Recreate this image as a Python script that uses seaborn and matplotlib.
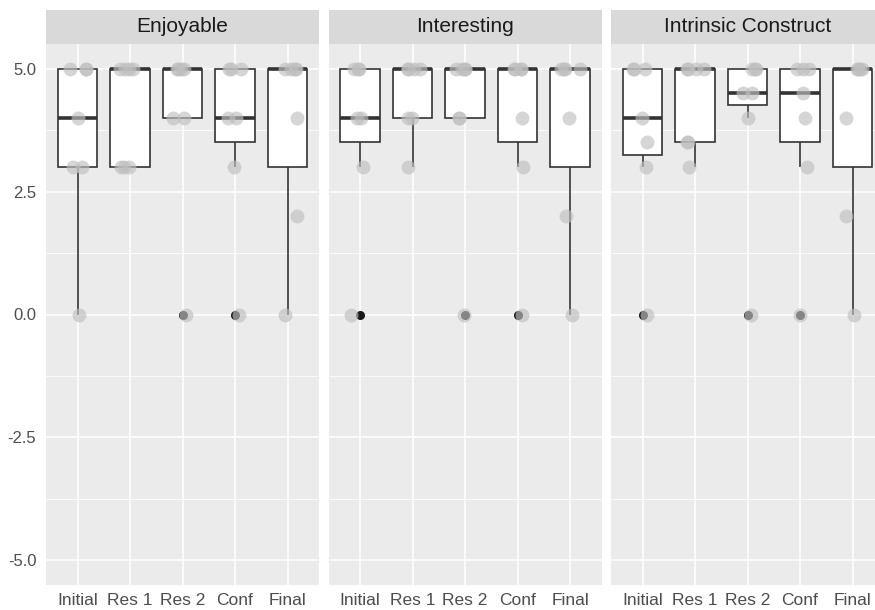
import numpy as np
import pandas as pd
import matplotlib
matplotlib.use("Agg")
import matplotlib.pyplot as plt
from matplotlib.patches import Rectangle
from matplotlib.ticker import FixedLocator
import seaborn as sns

# Phases along the x axis and the three measures shown as facets
phases = ["Initial", "Res 1", "Res 2", "Conf", "Final"]
facets = ["Enjoyable", "Interesting", "Intrinsic Construct"]

# Ratings per phase (7 participants), one list per phase
enjoyable = [
    [0, 3, 3, 4, 5, 5, 5],
    [3, 3, 3, 5, 5, 5, 5],
    [0, 4, 4, 5, 5, 5, 5],
    [0, 3, 4, 4, 5, 5, 5],
    [0, 2, 4, 5, 5, 5, 5],
]
interesting = [
    [0, 3, 4, 4, 5, 5, 5],
    [3, 4, 4, 5, 5, 5, 5],
    [0, 4, 4, 5, 5, 5, 5],
    [0, 3, 4, 5, 5, 5, 5],
    [0, 2, 4, 5, 5, 5, 5],
]
intrinsic = [
    [0, 3, 3.5, 4, 5, 5, 5],
    [3, 3.5, 3.5, 5, 5, 5, 5],
    [0, 4, 4.5, 4.5, 5, 5, 5],
    [0, 3, 4, 4.5, 5, 5, 5],
    [0, 2, 4, 5, 5, 5, 5],
]

y_ticks = [-5.0, -2.5, 0.0, 2.5, 5.0]
y_tick_labels = ["-5.0", "-2.5", "0.0", "2.5", "5.0"]


def long_frame(values):
    rows = [(p, v) for p, vals in zip(phases, values) for v in vals]
    return pd.DataFrame(rows, columns=["phase", "score"])


sns.set_theme(style="darkgrid")
plt.rcParams["font.family"] = ["Liberation Sans", "DejaVu Sans"]
plt.rcParams["axes.unicode_minus"] = False

W, H = 875, 610
fig = plt.figure(figsize=(W / 100, H / 100), dpi=100)
fig.patch.set_facecolor("white")

panel_lefts = [46, 328.5, 611]
panel_w, panel_bottom, panel_h = 273, 25, 541
strip_h = 34

np.random.seed(3)
for i, (title, values) in enumerate(zip(facets, [enjoyable, interesting, intrinsic])):
    ax = fig.add_axes([panel_lefts[i] / W, panel_bottom / H, panel_w / W, panel_h / H])
    ax.set_facecolor("#EBEBEB")
    df = long_frame(values)

    sns.boxplot(
        data=df, x="phase", y="score", order=phases, ax=ax,
        width=0.75, color="white", linecolor="#333333", linewidth=1.2,
        whis=1.5, showcaps=False,
        medianprops=dict(linewidth=2.6, color="#333333"),
        flierprops=dict(marker="o", markersize=5.5, markerfacecolor="#1A1A1A",
                        markeredgecolor="#1A1A1A"),
    )
    sns.stripplot(
        data=df, x="phase", y="score", order=phases, ax=ax,
        color="#BFBFBF", alpha=0.65, size=10, linewidth=0, jitter=0.2, zorder=5,
    )

    ax.set_xlim(-0.6, 4.6)
    ax.set_ylim(-5.5, 5.5)
    ax.set_xlabel("")
    ax.set_ylabel("")
    for s in ax.spines.values():
        s.set_visible(False)

    ax.set_axisbelow(True)
    ax.yaxis.set_major_locator(FixedLocator(y_ticks))
    ax.yaxis.set_minor_locator(FixedLocator([-3.75, -1.25, 1.25, 3.75]))
    ax.grid(True, which="major", color="white", linewidth=1.1)
    ax.grid(True, which="minor", axis="y", color="white", linewidth=0.55)

    ax.tick_params(axis="x", length=3, width=0.8, color="#333333",
                   labelsize=12.5, labelcolor="#4D4D4D", pad=3)
    ax.tick_params(axis="y", which="minor", length=0)
    if i == 0:
        ax.set_yticklabels(y_tick_labels)
        ax.tick_params(axis="y", which="major", length=3, width=0.8, color="#333333",
                       labelsize=12, labelcolor="#4D4D4D", pad=4)
    else:
        ax.tick_params(axis="y", which="major", length=0, labelleft=False)

    # facet strip above the panel
    sh = strip_h / panel_h
    ax.add_patch(Rectangle((0, 1), 1, sh, transform=ax.transAxes,
                           facecolor="#D9D9D9", edgecolor="none", clip_on=False))
    ax.text(0.5, 1 + sh / 2, title, transform=ax.transAxes, ha="center", va="center",
            fontsize=15, color="#1A1A1A")

fig.savefig("out.png", dpi=100, facecolor="white")
